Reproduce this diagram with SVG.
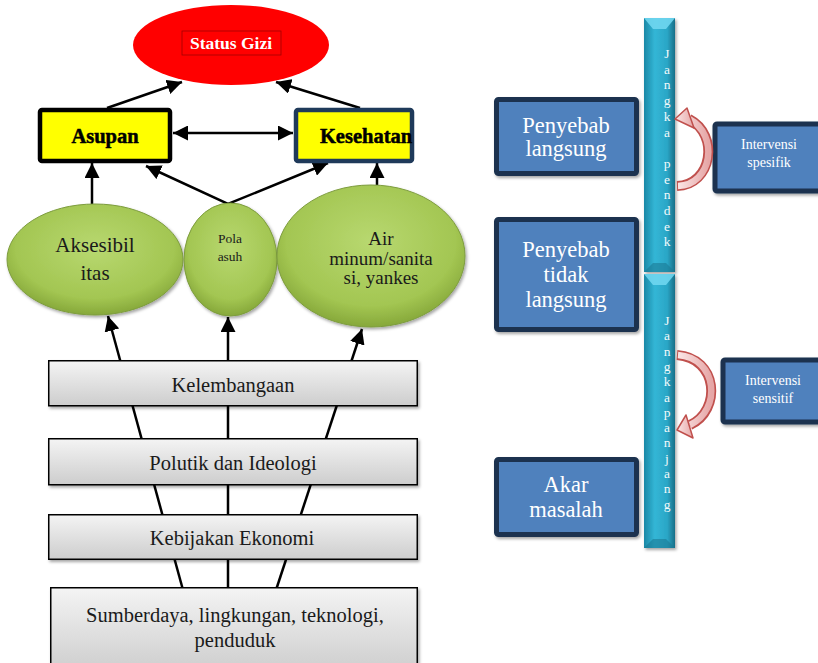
<svg xmlns="http://www.w3.org/2000/svg" width="818" height="663" viewBox="0 0 818 663">
<defs>
<style>
.serif{font-family:"Liberation Serif","DejaVu Serif",serif}
.gbox{fill:url(#gGray);stroke:#000;stroke-width:1.5;filter:url(#sh)}
.gtxt{font-family:"Liberation Serif","DejaVu Serif",serif;font-size:20.5px;fill:#1a1a1a;text-anchor:middle}
.ell{fill:url(#gGreen);stroke:#7d9c3e;stroke-width:1;filter:url(#sh)}
.etxt{font-family:"Liberation Serif","DejaVu Serif",serif;fill:#1a1a1a;text-anchor:middle}
.bbox{fill:#4f81bd;stroke:#1d3350;stroke-width:5;filter:url(#sh)}
.btxt{font-family:"Liberation Serif","DejaVu Serif",serif;font-size:22.5px;fill:#fff;text-anchor:middle}
.itxt{font-family:"Liberation Serif","DejaVu Serif",serif;font-size:14px;fill:#fff;text-anchor:middle}
.ybox{fill:#ffff00;stroke-width:4.5}
.ytxt{font-family:"Liberation Serif","DejaVu Serif",serif;font-size:20.5px;font-weight:bold;fill:#000;stroke:#000;stroke-width:0.5;text-anchor:middle}
.con{stroke:#000;stroke-width:2.5;fill:none}
.arr{marker-end:url(#ah)}
.bar{fill:url(#gBar);filter:url(#sh)}
.btl{font-family:"Liberation Serif","DejaVu Serif",serif;font-size:13.5px;fill:#f2fafc;text-anchor:middle}
.crvO{fill:none;stroke:#c0504d;stroke-width:10}
.crvI{fill:none;stroke:url(#gPink);stroke-width:6.5}
.crvH{fill:url(#gPink);stroke:#c0504d;stroke-width:1.5;stroke-linejoin:round}
</style>
<filter id="sh" x="-10%" y="-10%" width="125%" height="130%">
<feDropShadow dx="1.5" dy="2" stdDeviation="1.5" flood-color="#000" flood-opacity="0.35"/>
</filter>
<linearGradient id="gGray" x1="0" y1="0" x2="0" y2="1">
<stop offset="0" stop-color="#f4f4f4"/><stop offset="1" stop-color="#cdcdcd"/>
</linearGradient>
<radialGradient id="gGreen" cx="0.5" cy="0.4" r="0.6">
<stop offset="0" stop-color="#b8d870"/><stop offset="0.75" stop-color="#a3c652"/><stop offset="1" stop-color="#86a83a"/>
</radialGradient>
<linearGradient id="gBar" x1="0" y1="0" x2="1" y2="0">
<stop offset="0" stop-color="#1b88a6"/><stop offset="0.35" stop-color="#33b6d6"/><stop offset="0.75" stop-color="#2aa6c6"/><stop offset="1" stop-color="#186f88"/>
</linearGradient>
<linearGradient id="gPink" x1="0" y1="0" x2="1" y2="0">
<stop offset="0" stop-color="#fbe6e6"/><stop offset="1" stop-color="#e6a6a6"/>
</linearGradient>
<marker id="ah" viewBox="0 0 10 10" refX="10" refY="5" markerWidth="15" markerHeight="15" markerUnits="userSpaceOnUse" orient="auto-start-reverse">
<path d="M0,0 L10,5 L0,10 Z" fill="#000"/>
</marker>
</defs>
<rect width="818" height="663" fill="#fff"/>

<g id="connectors">
<line class="con arr" x1="107" y1="108" x2="182" y2="82"/>
<line class="con arr" x1="360" y1="108" x2="276" y2="82"/>
<line class="con arr" x1="173" y1="133" x2="293" y2="133" style="marker-start:url(#ah)"/>
<line class="con arr" x1="92" y1="204" x2="92" y2="163"/>
<polyline class="con" points="146,166 228,204 328,163" style="marker-start:url(#ah);marker-end:url(#ah)"/>
<line class="con arr" x1="377" y1="185" x2="377" y2="163"/>
<line class="con arr" x1="183" y1="590" x2="108" y2="316"/>
<line class="con arr" x1="228" y1="590" x2="228" y2="317"/>
<line class="con arr" x1="276" y1="590" x2="362" y2="329"/>
</g>

<g id="status-gizi">
<ellipse cx="231" cy="45" rx="98" ry="40" fill="#ff0000"/>
<rect x="182" y="31" width="99" height="24" fill="none" stroke="#a00000" stroke-width="0.8"/>
<text x="231" y="48.5" class="serif" font-size="17.5" font-weight="bold" fill="#fff" text-anchor="middle">Status Gizi</text>
</g>
<g id="asupan">
<rect x="40" y="110" width="130" height="51" rx="2" class="ybox" stroke="#000"/>
<text x="105" y="143" class="ytxt">Asupan</text>
</g>
<g id="kesehatan">
<rect x="296" y="110" width="116" height="51" rx="2" class="ybox" stroke="#1f3a5a"/>
<text x="366" y="143" class="ytxt">Kesehatan</text>
</g>

<g id="aksesibilitas">
<ellipse cx="95" cy="259.5" rx="88" ry="55.5" class="ell"/>
<text class="etxt" font-size="21"><tspan x="95" y="252">Aksesibil</tspan><tspan x="95" y="280">itas</tspan></text>
</g>
<g id="pola-asuh">
<ellipse cx="230.5" cy="259.5" rx="46.5" ry="56.5" class="ell"/>
<text class="etxt" font-size="13.5"><tspan x="230" y="243">Pola</tspan><tspan x="230" y="261">asuh</tspan></text>
</g>
<g id="air-minum">
<ellipse cx="371" cy="256" rx="94" ry="71" class="ell"/>
<text class="etxt" font-size="19"><tspan x="381" y="245">Air</tspan><tspan x="381" y="265">minum/sanita</tspan><tspan x="381" y="284">si, yankes</tspan></text>
</g>

<g id="kelembagaan">
<rect x="48.75" y="360.75" width="368.5" height="45" class="gbox"/>
<text x="233" y="392" class="gtxt">Kelembangaan</text>
</g>
<g id="politik">
<rect x="48.75" y="438.75" width="368.5" height="46" class="gbox"/>
<text x="233" y="470" class="gtxt">Polutik dan Ideologi</text>
</g>
<g id="ekonomi">
<rect x="48.75" y="514.75" width="368.5" height="44.5" class="gbox"/>
<text x="232" y="545" class="gtxt">Kebijakan Ekonomi</text>
</g>
<g id="sumberdaya">
<rect x="50.75" y="587.75" width="366.5" height="85" class="gbox"/>
<text class="gtxt"><tspan x="235" y="621.5">Sumberdaya, lingkungan, teknologi,</tspan><tspan x="235" y="646.5">penduduk</tspan></text>
</g>

<g id="penyebab-langsung">
<rect x="496.5" y="99.5" width="140" height="74" rx="2" class="bbox"/>
<text class="btxt"><tspan x="566" y="133">Penyebab</tspan><tspan x="566" y="156">langsung</tspan></text>
</g>
<g id="penyebab-tidak-langsung">
<rect x="496.5" y="219.5" width="140" height="110" rx="2" class="bbox"/>
<text class="btxt"><tspan x="566" y="257">Penyebab</tspan><tspan x="566" y="282">tidak</tspan><tspan x="566" y="307">langsung</tspan></text>
</g>
<g id="akar-masalah">
<rect x="496.5" y="459.5" width="140" height="75" rx="2" class="bbox"/>
<text class="btxt"><tspan x="566" y="492">Akar</tspan><tspan x="566" y="517">masalah</tspan></text>
</g>

<g id="jangka-pendek">
<rect x="644" y="18" width="31" height="254" class="bar"/>
<polygon points="644,18 675,18 666,29 653,29" fill="#6fd6ef" opacity="0.9"/>
<polygon points="644,272 675,272 666,263 653,263" fill="#1a7a94" opacity="0.6"/>
<text class="btl"><tspan x="667" y="58">J</tspan><tspan x="667" dy="15.7">a</tspan><tspan x="667" dy="15.7">n</tspan><tspan x="667" dy="15.7">g</tspan><tspan x="667" dy="15.7">k</tspan><tspan x="667" dy="15.7">a</tspan><tspan x="667" dy="31.4">p</tspan><tspan x="667" dy="15.7">e</tspan><tspan x="667" dy="15.7">n</tspan><tspan x="667" dy="15.7">d</tspan><tspan x="667" dy="15.7">e</tspan><tspan x="667" dy="15.7">k</tspan></text>
</g>
<g id="jangka-panjang">
<rect x="644" y="274" width="31" height="274" class="bar"/>
<polygon points="644,274 675,274 666,285 653,285" fill="#6fd6ef" opacity="0.9"/>
<polygon points="644,548 675,548 666,539 653,539" fill="#1a7a94" opacity="0.6"/>
<text class="btl"><tspan x="667" y="325">J</tspan><tspan x="667" dy="15.3">a</tspan><tspan x="667" dy="15.3">n</tspan><tspan x="667" dy="15.3">g</tspan><tspan x="667" dy="15.3">k</tspan><tspan x="667" dy="15.3">a</tspan><tspan x="667" dy="15.3">p</tspan><tspan x="667" dy="15.3">a</tspan><tspan x="667" dy="15.3">n</tspan><tspan x="667" dy="15.3">j</tspan><tspan x="667" dy="15.3">a</tspan><tspan x="667" dy="15.3">n</tspan><tspan x="667" dy="15.3">g</tspan></text>
</g>

<g id="intervensi-spesifik">
<rect x="715" y="124" width="110" height="67" rx="2" class="bbox"/>
<text class="itxt"><tspan x="769" y="149">Intervensi</tspan><tspan x="769" y="166.5">spesifik</tspan></text>
</g>
<g id="intervensi-sensitif">
<rect x="723" y="360" width="102" height="62" rx="2" class="bbox"/>
<text class="itxt"><tspan x="773" y="385">Intervensi</tspan><tspan x="773" y="402.5">sensitif</tspan></text>
</g>

<g id="curved-arrow-spesifik">
<path class="crvO" d="M677,186 C712,185 720,135 689,119"/>
<path class="crvI" d="M678,186 C712,185 720,135 689,119"/>
<polygon class="crvH" points="675,119 687,108 694,128"/>
</g>
<g id="curved-arrow-sensitif">
<path class="crvO" d="M677,355 C718,358 722,410 690,425"/>
<path class="crvI" d="M678,355 C718,358 722,410 690,425"/>
<polygon class="crvH" points="677,430 686,415 693,438"/>
</g>
</svg>
